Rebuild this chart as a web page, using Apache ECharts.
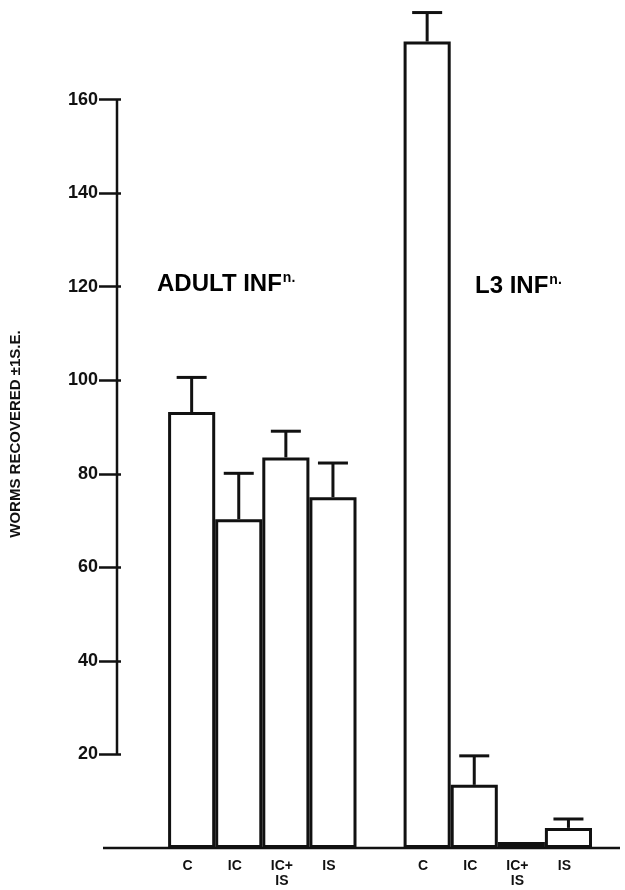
<!DOCTYPE html>
<html>
<head>
<meta charset="utf-8">
<script src="https://cdn.jsdelivr.net/npm/echarts@6/dist/echarts.min.js"></script>
<style>
  html, body { margin: 0; padding: 0; background: #fff; }
  #main { width: 625px; height: 890px; }
</style>
</head>
<body>
<div id="main"></div>
<script>
// values (worms recovered, +1 S.E.)
const groups = ['C', 'IC', 'IC+\nIS', 'IS'];
const adultMeans = [93.2, 70.3, 83.5, 75.0];
const adultSE = [7.4, 9.8, 5.6, 7.3];
const l3Means = [172.4, 13.5, 1.3, 4.3];
const l3SE = [6.2, 6.2, 0, 1.9];
const yTicks = [20, 40, 60, 80, 100, 120, 140, 160];

const font = 'Liberation Sans, Arial, sans-serif';
const ink = '#111';
const gridLeft = 117;

// empty slots give the gap before each group
const categories = [''].concat(groups, [''], groups);
const means = [null].concat(adultMeans, [null], l3Means);
const errs = [null].concat(adultSE, [null], l3SE);

const barData = means.map(function (v, i) {
  if (v == null) return '-';
  // the IC+IS bar of the L3 group is so thin it prints solid
  if (i === 8) return { value: v, itemStyle: { color: ink } };
  return v;
});
const errData = [];
means.forEach(function (v, i) {
  if (v != null && errs[i] > 0) errData.push([i, v, errs[i]]);
});

const chart = echarts.init(document.getElementById('main'));

const option = {
  animation: false,
  backgroundColor: '#fff',
  grid: { left: gridLeft, width: 475, top: 6, bottom: 42 },
  xAxis: {
    type: 'category',
    data: categories,
    axisLine: { show: false },
    axisTick: { show: false },
    axisLabel: {
      interval: 0, margin: 11, color: ink, fontFamily: font,
      fontSize: 14, fontWeight: 'bold', lineHeight: 15, padding: [0, 8, 0, 0]
    }
  },
  yAxis: {
    type: 'value',
    min: 0,
    max: 180,
    splitLine: { show: false },
    axisLine: { show: false },
    axisTick: {
      show: true, customValues: yTicks, length: 22,
      lineStyle: { color: ink, width: 2.5 }
    },
    axisLabel: {
      customValues: yTicks, margin: 23, color: ink, fontFamily: font,
      fontSize: 18, fontWeight: 'bold'
    },
    name: 'WORMS RECOVERED \u00b11S.E.',
    nameLocation: 'middle',
    nameGap: 98,
    nameTextStyle: {
      color: ink, fontFamily: font, fontSize: 15, fontWeight: 'bold',
      padding: [0, 14, 0, 0]
    }
  },
  series: [{
    type: 'bar',
    data: barData,
    barCategoryGap: 0,
    barGap: 0,
    itemStyle: { color: '#fff', borderColor: ink, borderWidth: 3 },
    z: 2
  }, {
    type: 'custom',
    data: errData,
    encode: { x: 0, y: 1 },
    z: 3,
    renderItem: function (params, api) {
      const base = api.coord([api.value(0), api.value(1)]);
      const top = api.coord([api.value(0), api.value(1) + api.value(2)]);
      const st = { stroke: ink, lineWidth: 3 };
      return {
        type: 'group',
        children: [
          { type: 'line', shape: { x1: base[0], y1: base[1], x2: top[0], y2: top[1] }, style: st },
          { type: 'line', shape: { x1: top[0] - 15, y1: top[1], x2: top[0] + 15, y2: top[1] }, style: st }
        ]
      };
    }
  }]
};
chart.setOption(option);

// axis lines as in the figure: vertical one only between 20 and 160, base line wider than the plot
const yTop = chart.convertToPixel({ yAxisIndex: 0 }, yTicks[yTicks.length - 1]);
const yBot = chart.convertToPixel({ yAxisIndex: 0 }, yTicks[0]);
const yZero = chart.convertToPixel({ yAxisIndex: 0 }, 0);
const rich = {
  a: { fontFamily: font, fontSize: 24, fontWeight: 'bold', color: ink },
  s: { fontFamily: font, fontSize: 14, fontWeight: 'bold', color: ink, padding: [0, 0, 12, 1] }
};
chart.setOption({
  graphic: [
    { type: 'line', shape: { x1: gridLeft, y1: yTop, x2: gridLeft, y2: yBot }, style: { stroke: ink, lineWidth: 2.5 } },
    { type: 'line', shape: { x1: gridLeft - 14, y1: yZero, x2: 620, y2: yZero }, style: { stroke: ink, lineWidth: 2.5 } },
    { type: 'text', x: 157, y: 284, style: { text: '{a|ADULT INF}{s|n.}', rich: rich, verticalAlign: 'middle' } },
    { type: 'text', x: 475, y: 286, style: { text: '{a|L3 INF}{s|n.}', rich: rich, verticalAlign: 'middle' } }
  ]
});

window.addEventListener('resize', function () { chart.resize(); });
</script>
</body>
</html>
